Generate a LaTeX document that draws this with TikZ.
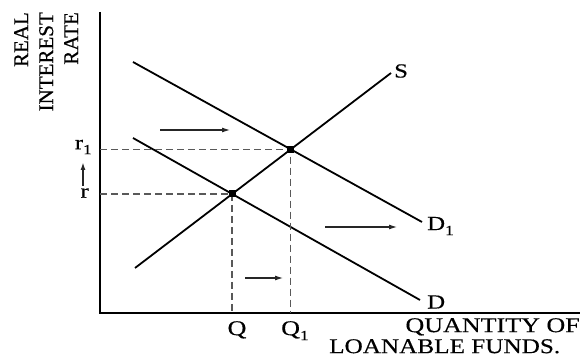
\documentclass[tikz,border=0pt]{standalone}
\usepackage{fontspec}
\setmainfont{Liberation Serif}
\newfontfamily\widefont[FakeStretch=1.24,FakeBold=0.4]{Liberation Serif}
\newfontfamily\narrowfont[FakeStretch=1.2,FakeBold=0.4]{Liberation Serif}
\newfontfamily\tallfont[FakeBold=0.4]{Liberation Serif}
\usetikzlibrary{arrows.meta,positioning,intersections}

\newcommand{\lowidx}[1]{\raisebox{-5pt}{\fontsize{14}{14}\selectfont #1}}

\begin{document}
\begin{tikzpicture}[
    x=1pt, y=-1pt,
    axis/.style={line width=1.8pt},
    curve/.style={line width=1.8pt},
    guide/.style={dash pattern=on 7pt off 4pt, line width=1.4pt, black!65},
    shiftarrow/.style={-{Latex[length=8pt,width=5pt]}, line width=1.1pt, black!85},
    eqpt/.style={rectangle, fill=black, inner sep=0pt, minimum size=7pt},
    lbl/.style={font=\widefont\fontsize{21}{20}\selectfont, inner sep=0pt},
    curvelbl/.style={font=\widefont\fontsize{20}{20}\selectfont, inner sep=0pt},
]
\useasboundingbox (0,0) rectangle (584,358);

% --- Axes ---
\coordinate (O)    at (100,313);
\coordinate (ytop) at (100,12);
\coordinate (xend) at (580,313);
\draw[axis] (ytop) -- (O) -- (xend);

% --- Supply and demand curves ---
\coordinate (S0)  at (135,268);
\coordinate (S1)  at (391,73);
\coordinate (Da)  at (133,62);
\coordinate (Db)  at (422,222);
\coordinate (D0a) at (133,138);
\coordinate (D0b) at (420,300);
\draw[curve, name path=S]  (S0) -- (S1);
\draw[curve, name path=D1] (Da) -- (Db);
\draw[curve, name path=D]  (D0a) -- (D0b);

% --- Equilibria ---
\path[name intersections={of=S and D, by=E0}];
\path[name intersections={of=S and D1, by=E1}];
\coordinate (r0) at (O |- E0);
\coordinate (r1) at (O |- E1);
\coordinate (q0) at (E0 |- O);
\coordinate (q1) at (E1 |- O);
\draw[guide] (r0) -- (E0) -- (q0);
\draw[guide] (r1) -- (E1) -- (q1);
\node[eqpt] (e0) at (E0) {};
\node[eqpt] (e1) at (E1) {};

% --- Shift arrows ---
\coordinate (a1) at (160,130);  \coordinate (b1) at (230,130);
\coordinate (a2) at (325,227);  \coordinate (b2) at (397,227);
\coordinate (a3) at (245,278);  \coordinate (b3) at (283,278);
\coordinate (a4) at (83,186);   \coordinate (b4) at (83,162);
\draw[shiftarrow] (a1) -- (b1);
\draw[shiftarrow] (a2) -- (b2);
\draw[shiftarrow] (a3) -- (b3);
\draw[shiftarrow, line width=1.6pt] (a4) -- (b4);

% --- Labels ---
\node[curvelbl, anchor=west] (slbl)  at (394,71)  {S};
\node[curvelbl, anchor=west] (d1lbl) at (427,226) {D\lowidx{1}};
\node[curvelbl, anchor=west] (dlbl)  at (427,302) {D};
\node[curvelbl, anchor=east] (rlbl)  at (89,193)  {r};
\node[curvelbl, anchor=east] (r1lbl) at (92,147)  {r\lowidx{1}};
\node[lbl, anchor=north] (qlbl)  at (237,321) {Q};
\node[lbl, anchor=north west] (q1lbl) at (281,321) {Q\lowidx{1}};
\node[lbl, anchor=north east] (xlbl)  at (580,318) {QUANTITY OF};
\node[lbl, font=\narrowfont\fontsize{21}{20}\selectfont, anchor=north west] (flbl) at (329,339) {LOANABLE FUNDS.};
\node[rotate=90, anchor=north east, align=right, inner sep=0pt,
      font=\tallfont\fontsize{21}{25}\selectfont] (ylbl) at (14,12) {REAL\\INTEREST\\RATE};

\end{tikzpicture}
\end{document}
